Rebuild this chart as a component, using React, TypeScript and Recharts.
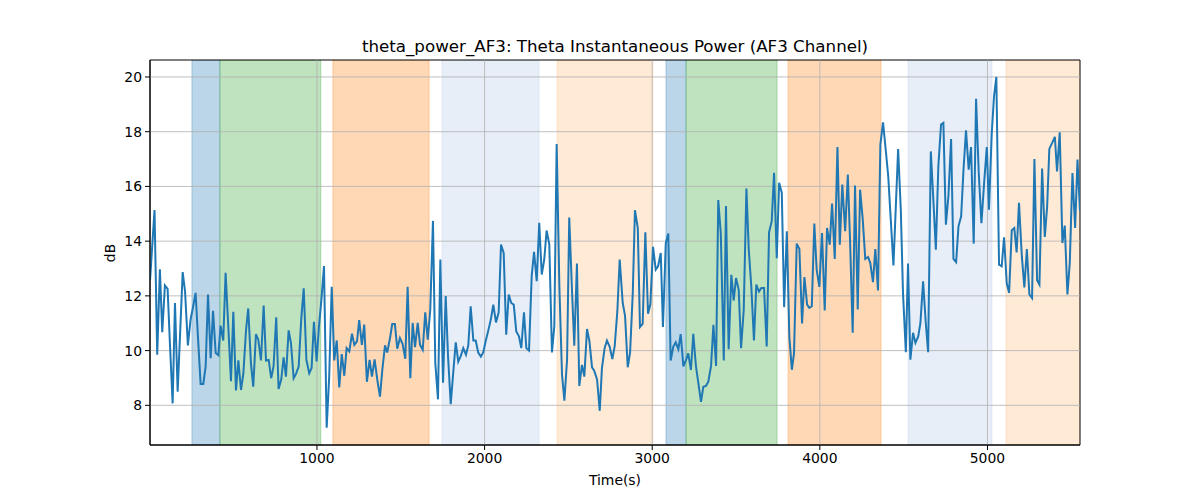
import React from 'react';
import {
  LineChart,
  Line,
  XAxis,
  YAxis,
  ReferenceArea,
  ReferenceLine,
} from 'recharts';

// sample times (s) and theta power (dB)
const times = [
  4, 31, 47, 63, 77, 93, 109, 124, 139, 153, 169, 199, 213, 230, 246, 261, 276, 291, 306, 322,
  336, 350, 366, 380, 396, 412, 425, 441, 455, 471, 487, 501, 517, 531, 547, 561, 577, 590, 606, 620,
  636, 650, 666, 682, 696, 712, 727, 741, 757, 771, 787, 801, 815, 831, 845, 861, 875, 891, 906, 921,
  937, 954, 968, 982, 998, 1012, 1027, 1042, 1058, 1073, 1088, 1103, 1118, 1133, 1148, 1163, 1177, 1193, 1209, 1223,
  1239, 1252, 1268, 1282, 1298, 1314, 1328, 1344, 1360, 1376, 1390, 1406, 1419, 1436, 1449, 1465, 1479, 1495, 1511, 1527,
  1541, 1557, 1571, 1585, 1601, 1615, 1631, 1646, 1661, 1676, 1692, 1706, 1722, 1736, 1752, 1768, 1782, 1798, 1811, 1828,
  1843, 1857, 1873, 1889, 1903, 1917, 1933, 1947, 1962, 1978, 1992, 2007, 2022, 2038, 2052, 2068, 2084, 2098, 2114, 2129,
  2144, 2159, 2174, 2189, 2205, 2219, 2235, 2249, 2265, 2281, 2295, 2311, 2326, 2341, 2356, 2370, 2386, 2402, 2416, 2430,
  2446, 2462, 2476, 2492, 2505, 2522, 2535, 2551, 2565, 2581, 2595, 2611, 2625, 2641, 2654, 2671, 2687, 2700, 2716, 2730,
  2746, 2762, 2776, 2792, 2806, 2824, 2838, 2854, 2868, 2884, 2897, 2914, 2927, 2943, 2959, 2975, 2989, 3005, 3021, 3035,
  3051, 3064, 3081, 3096, 3110, 3126, 3140, 3156, 3170, 3186, 3202, 3215, 3231, 3245, 3261, 3277, 3291, 3305, 3321, 3335,
  3351, 3365, 3381, 3394, 3409, 3427, 3440, 3456, 3472, 3486, 3500, 3516, 3530, 3546, 3562, 3576, 3591, 3607, 3621, 3637,
  3651, 3667, 3683, 3697, 3713, 3727, 3743, 3757, 3773, 3787, 3803, 3818, 3833, 3846, 3862, 3878, 3894, 3908, 3924, 3937,
  3952, 3967, 3981, 3997, 4013, 4029, 4043, 4059, 4073, 4089, 4105, 4119, 4134, 4151, 4167, 4180, 4196, 4210, 4226, 4240,
  4256, 4271, 4288, 4301, 4317, 4331, 4347, 4361, 4377, 4393, 4408, 4423, 4439, 4455, 4467, 4483, 4496, 4513, 4526, 4540,
  4556, 4570, 4587, 4600, 4616, 4632, 4646, 4662, 4677, 4692, 4707, 4723, 4737, 4752, 4767, 4783, 4797, 4813, 4827, 4843,
  4857, 4872, 4888, 4902, 4918, 4932, 4948, 4964, 4980, 4996, 5009, 5025, 5039, 5053, 5069, 5085, 5099, 5115, 5129, 5145,
  5160, 5174, 5188, 5205, 5220, 5235, 5250, 5266, 5280, 5296, 5310, 5326, 5342, 5356, 5369, 5386, 5402, 5415, 5431, 5447,
  5461, 5477, 5491, 5507, 5523, 5537, 5552,
];

const power = [
  12.55, 15.14, 9.85, 12.97, 10.67, 12.38, 12.26, 10.1, 8.07, 11.74, 8.5, 12.87, 12.17, 10.19, 11.13, 11.6, 12.11, 10.4, 8.78, 8.78,
  9.42, 12.05, 9.72, 11.45, 9.91, 9.83, 10.91, 10.37, 12.84, 10.89, 8.88, 11.42, 8.54, 9.64, 8.56, 9.17, 10.76, 11.54, 9.54, 8.68,
  10.6, 10.4, 9.64, 11.65, 9.64, 9.66, 8.99, 9.42, 11.22, 8.6, 8.95, 9.75, 9.05, 10.74, 10.27, 8.99, 9.15, 9.42, 11.13, 12.28,
  9.66, 9.17, 9.36, 11.05, 9.6, 10.89, 11.9, 13.09, 7.18, 9.05, 12.33, 9.64, 10.37, 8.65, 9.87, 9.08, 10.09, 9.97, 10.62, 10.21,
  10.34, 11.11, 10.21, 10.95, 8.86, 9.66, 9.05, 9.68, 8.93, 8.32, 9.3, 10.19, 9.93, 10.46, 10.97, 10.97, 10.07, 10.46, 10.24, 9.7,
  12.33, 8.99, 11.01, 10.13, 11.01, 10.21, 10.03, 11.4, 10.4, 11.5, 14.74, 9.54, 8.22, 13.33, 8.83, 11.99, 9.79, 8.04, 9.05, 10.3,
  9.6, 9.79, 10.09, 9.85, 10.2, 11.62, 10.37, 10.37, 9.93, 9.78, 9.93, 10.36, 10.73, 11.16, 11.68, 11.03, 11.4, 13.88, 13.57, 10.58,
  12.05, 11.74, 11.68, 10.7, 10.52, 10.09, 11.4, 10.09, 10.0, 12.72, 13.61, 12.54, 14.67, 12.78, 13.33, 14.39, 13.88, 9.93, 10.89, 17.55,
  12.35, 9.11, 8.17, 9.66, 14.86, 12.11, 10.18, 13.18, 8.71, 9.48, 9.05, 10.79, 10.36, 9.39, 9.27, 8.95, 7.8, 9.35, 10.09, 10.37,
  10.15, 9.69, 10.15, 11.44, 13.33, 11.74, 11.27, 9.39, 9.93, 12.1, 15.13, 14.48, 10.86, 10.98, 14.32, 11.35, 11.7, 13.79, 12.96, 13.08,
  13.57, 10.86, 13.93, 14.28, 9.64, 10.15, 10.3, 10.05, 10.6, 9.42, 9.66, 9.9, 9.29, 10.61, 9.42, 8.74, 8.13, 8.68, 8.71, 8.87,
  9.44, 10.94, 9.44, 15.5, 14.3, 9.64, 15.28, 10.05, 12.77, 11.83, 12.65, 12.22, 10.09, 11.49, 15.92, 13.69, 12.35, 10.37, 12.41, 12.16,
  12.29, 12.29, 10.15, 14.32, 14.73, 16.5, 13.38, 16.13, 15.77, 11.59, 14.36, 10.5, 9.3, 9.91, 13.91, 13.71, 10.99, 12.69, 11.68, 11.56,
  11.62, 14.64, 12.96, 12.33, 14.3, 11.47, 14.48, 13.87, 15.37, 13.35, 17.44, 13.87, 16.07, 14.36, 16.43, 14.06, 10.65, 16.03, 11.5, 15.88,
  14.79, 13.35, 13.42, 13.2, 12.5, 13.71, 12.2, 17.53, 18.34, 17.34, 16.37, 14.79, 13.11, 15.52, 17.37, 15.15, 12.11, 9.94, 13.18, 9.67,
  10.65, 10.28, 10.52, 11.01, 12.53, 11.01, 9.94, 17.28, 15.52, 13.69, 16.74, 18.26, 18.32, 14.6, 15.64, 17.73, 13.35, 13.23, 14.54, 14.91,
  16.61, 18.05, 16.61, 17.44, 13.91, 19.2, 16.49, 14.66, 16.13, 17.44, 15.15, 17.89, 19.29, 20.0, 13.14, 13.08, 14.14, 12.45, 12.11, 14.4,
  14.48, 13.59, 15.4, 13.45, 12.31, 13.71, 12.05, 11.92, 17.0, 12.57, 12.41, 16.65, 14.15, 15.27, 17.37, 17.59, 17.81, 16.55, 17.98, 13.93,
  14.57, 12.05, 13.2, 16.49, 14.48, 16.98, 15.09,
];

// shaded epochs
const bandStart = [254, 421, 1095, 1746, 2432, 3082, 3202, 3810, 4526, 5110];
const bandEnd = [421, 1023, 1669, 2325, 3004, 3202, 3745, 4365, 5027, 5552];
const bandKind = ['a', 'b', 'c', 'd', 'e', 'a', 'b', 'c', 'd', 'e'];

const xTicks = [1000, 2000, 3000, 4000, 5000];
const yTicks = [8, 10, 12, 14, 16, 18, 20];

const kindColor: Record<string, string> = {
  a: '#1f77b4',
  b: '#2ca02c',
  c: '#ff7f0e',
  d: '#aec7e8',
  e: '#ffbb78',
};

const data = times.map((t, i) => ({ t, v: power[i] }));

const X_MIN = 4;
const X_MAX = 5552;
const Y_MIN = 6.55;
const Y_MAX = 20.62;

const font = 'DejaVu Sans, sans-serif';

export default function App() {
  return (
    <div
      style={{
        position: 'absolute',
        left: 0,
        top: 0,
        width: 1200,
        height: 500,
        background: '#fff',
        fontFamily: font,
      }}
    >
      <div
        style={{
          position: 'absolute',
          left: 150,
          width: 930,
          top: 36,
          textAlign: 'center',
          fontSize: 16.7,
          color: '#000',
        }}
      >
        theta_power_AF3: Theta Instantaneous Power (AF3 Channel)
      </div>
      <div
        style={{
          position: 'absolute',
          left: 150,
          width: 930,
          top: 472,
          textAlign: 'center',
          fontSize: 13.9,
          color: '#000',
        }}
      >
        Time(s)
      </div>
      <div
        style={{
          position: 'absolute',
          left: 110,
          top: 253,
          transform: 'translate(-50%, -50%) rotate(-90deg)',
          fontSize: 13.9,
          color: '#000',
        }}
      >
        dB
      </div>
      <LineChart
        width={1200}
        height={500}
        data={data}
        margin={{ top: 60, right: 120, bottom: 25, left: 110 }}
      >
        {bandStart.map((s, i) => (
          <ReferenceArea
            key={'b' + i}
            x1={s}
            x2={bandEnd[i]}
            y1={Y_MIN}
            y2={Y_MAX}
            ifOverflow="hidden"
            fill={kindColor[bandKind[i]]}
            fillOpacity={0.3}
            stroke={kindColor[bandKind[i]]}
            strokeOpacity={0.3}
            zIndex={100}
          />
        ))}
        {xTicks.map((x) => (
          <ReferenceLine key={'gx' + x} x={x} stroke="#b0b0b0" strokeWidth={0.8} zIndex={200} />
        ))}
        {yTicks.map((y) => (
          <ReferenceLine key={'gy' + y} y={y} stroke="#b0b0b0" strokeWidth={0.8} zIndex={200} />
        ))}
        <XAxis
          dataKey="t"
          type="number"
          domain={[X_MIN, X_MAX]}
          ticks={xTicks}
          allowDataOverflow
          height={30}
          tickSize={5}
          tickMargin={3}
          stroke="#000"
          tick={{ fill: '#000', fontSize: 13.9, fontFamily: font }}
        />
        <YAxis
          type="number"
          domain={[Y_MIN, Y_MAX]}
          ticks={yTicks}
          allowDataOverflow
          width={40}
          tickSize={5}
          tickMargin={3}
          stroke="#000"
          tick={{ fill: '#000', fontSize: 13.9, fontFamily: font }}
        />
        <Line
          type="linear"
          dataKey="v"
          stroke="#1f77b4"
          strokeWidth={2}
          dot={false}
          isAnimationActive={false}
        />
        <ReferenceArea
          x1={X_MIN}
          x2={X_MAX}
          y1={Y_MIN}
          y2={Y_MAX}
          fill="none"
          stroke="#000"
          strokeWidth={1}
        />
      </LineChart>
    </div>
  );
}
